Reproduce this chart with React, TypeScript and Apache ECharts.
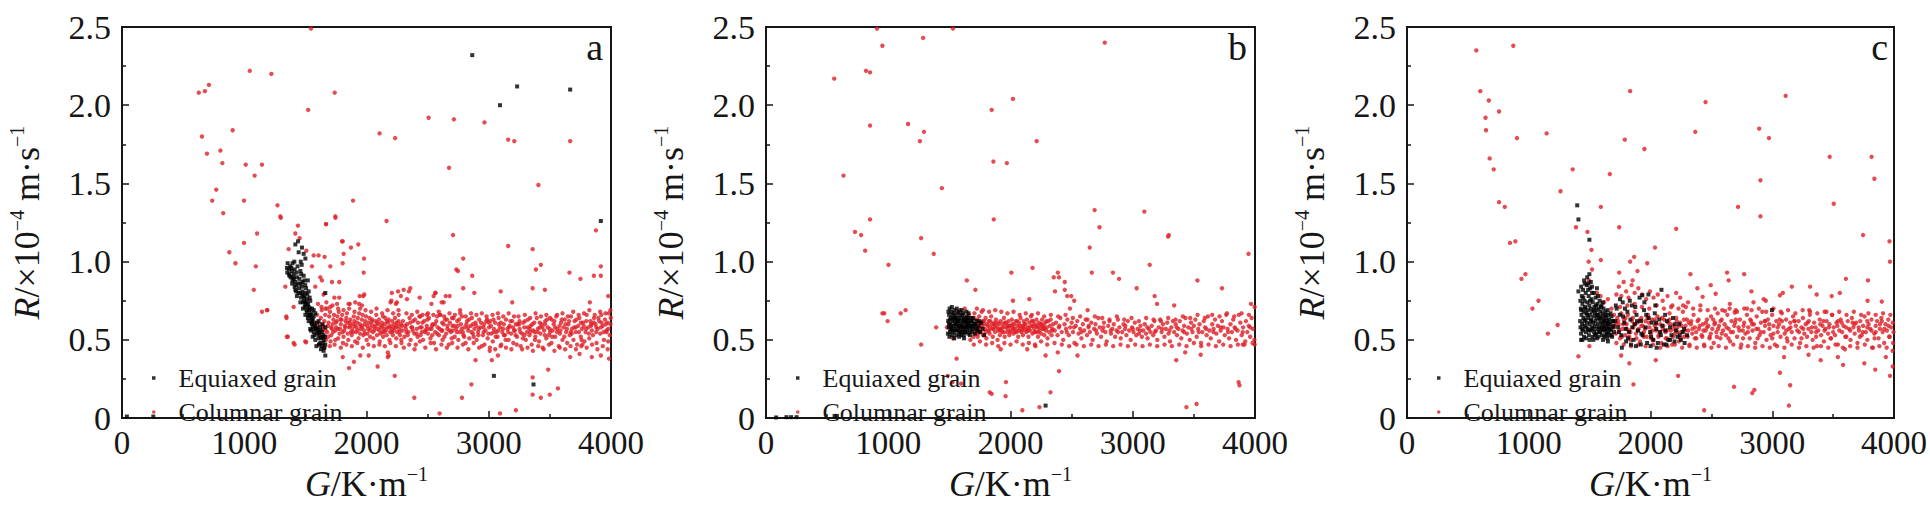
import React, { useEffect, useRef } from "react";
import * as echarts from "echarts";

type P = [number, number];

const panelLabels = ["a", "b", "c"];
const seriesNames = ["Equiaxed grain", "Columnar grain"];
const xTickLabels = ["0", "1000", "2000", "3000", "4000"];
const yTickLabels = ["0", "0.5", "1.0", "1.5", "2.0", "2.5"];

const equiaxedA: P[] = [
  [1418,1.11],[1472,1.09],[1445,1.06],[1486,1.05],[1440,1.13],[1500,1.02],[1462,1.00],
  [1349,0.96],[1363,0.95],[1352,0.93],[1390,0.94],[1404,0.92],[1431,0.90],[1459,0.94],[1486,0.91],[1376,0.97],[1395,0.99],[1370,0.91],
  [1418,0.87],[1445,0.86],[1472,0.84],[1499,0.85],[1527,0.81],[1459,0.80],[1486,0.78],[1513,0.76],[1540,0.75],[1499,0.73],[1527,0.71],[1554,0.70],
  [1513,0.68],[1540,0.66],[1568,0.65],[1527,0.62],[1554,0.60],[1581,0.59],[1540,0.57],[1568,0.55],[1595,0.54],[1608,0.51],[1581,0.50],[1622,0.48],
  [1636,0.46],[1649,0.43],[1595,0.61],[1581,0.67],[1568,0.69],[1649,0.53],[1663,0.47],[1636,0.55],[1622,0.58],[1608,0.62],[1395,0.88],[1418,0.82],
  [1431,0.78],[1459,0.74],[1480,0.70],[1500,0.66],[1520,0.64],[1545,0.56],[1560,0.52],[1600,0.56],[1650,0.50],[1640,0.60],[1663,0.58],[1520,0.88],
  [1500,0.80],[1535,0.77],[1470,0.98],[1410,1.00],[1380,0.90],[1560,0.63],[1590,0.46],[1655,0.45],[1615,0.53],[1628,0.51],[1575,0.57],[1552,0.64],
  [1532,0.69],[1510,0.72],[1490,0.75],[1475,0.79],[1448,0.83],[1425,0.85],[1405,0.89],
  [1355,0.99],[1368,0.92],[1385,0.96],[1398,0.90],[1412,0.95],[1428,0.93],[1436,0.97],[1452,0.89],[1466,0.92],[1478,0.87],[1492,0.88],[1506,0.83],
  [1516,0.79],[1462,0.86],[1476,0.81],[1492,0.77],[1506,0.74],[1522,0.73],[1538,0.70],[1548,0.67],[1534,0.65],[1556,0.62],[1570,0.60],[1585,0.57],
  [1598,0.58],[1612,0.55],[1625,0.56],[1638,0.52],[1646,0.48],[1660,0.52],[1628,0.44],[1612,0.47],[1575,0.53],[1562,0.58],[1548,0.61],[1525,0.66],
  [1510,0.69],[1495,0.71],[1482,0.74],[1464,0.77],[1442,0.80],[1425,0.81],[1412,0.84],[1392,0.86],
  [2865,2.32],[3232,2.12],[3092,2.00],[3666,2.10],[3917,1.26],[3042,0.27],[3366,0.215],[1663,0.80],[1663,0.40],[256,0.01],[40,0.01]
];

const columnarA: P[] = [
  [1546,2.49],[628,2.08],[678,2.09],[711,2.13],[1045,2.22],[1222,2.20],[1740,2.08],[1523,1.97],[654,1.80],[695,1.69],[905,1.84],[805,1.71],
  [821,1.63],[771,1.46],[738,1.39],[828,1.31],[1012,1.62],[1145,1.62],[1085,1.55],[998,1.39],[1272,1.36],[1299,1.28],[998,1.12],[1105,1.18],
  [878,1.06],[928,0.99],[1095,0.97],[1078,0.82],[1145,0.68],[1189,0.69],[1346,0.64],[1356,0.52],[1412,0.47],[1506,0.485],[2508,1.92],[2715,1.91],
  [2965,1.89],[2107,1.82],[2234,1.79],[3159,1.78],[3209,1.77],[3666,1.77],[2675,1.60],[3406,1.49],[1890,1.39],[1746,1.28],[1670,1.24],[2164,1.26],
  [3877,1.20],[2708,1.17],[3159,1.10],[3359,1.08],[1806,1.13],[1873,1.09],[1933,1.11],[1980,1.02],[2791,1.02],[3426,0.98],[3917,0.97],[3917,0.91],
  [3860,0.91],[3750,0.89],[3660,0.93],[3386,0.95],[2865,0.91],[2748,0.94],[3098,0.81],[3192,0.74],[3359,0.83],[3459,0.82],[3827,0.74],[3977,0.78],
  [2765,0.69],[2882,0.80],[2791,0.83],[2648,0.78],[2564,0.80],[2531,0.73],[2615,0.74],[2347,0.81],[2281,0.78],[2207,0.80],[2197,0.74],[2240,0.73],
  [1973,0.78],[1940,0.73],[1863,0.73],[2892,0.37],[3025,0.37],[3075,0.40],[3008,0.43],[2091,0.33],[2174,0.39],[2174,0.42],[1897,0.36],[1857,0.32],
  [1806,0.39],[2231,0.27],[2858,0.215],[2391,0.13],[2598,0.03],[2781,0.13],[3092,0.03],[3222,0.05],[3359,0.15],[3426,0.13],[3499,0.15],[3566,0.19],
  [3486,0.31],[3359,0.26],[3843,0.39],[3917,0.40],[3984,0.38],[3973,0.44],[3743,0.41],[3766,0.47],[3666,0.39],
  [1295,1.29],[1439,1.23],[1418,1.18],[1453,1.15],[1363,1.08],[1508,1.07],[1745,1.29],[1668,1.24],[1799,1.13],[1813,1.05],[1608,1.04],[1657,1.03],
  [1568,1.04],[1554,0.97],[1704,0.97],[1805,0.99],[1977,0.93],[1622,0.90],[1636,0.88],[1718,0.87],[1777,0.87],[1336,0.84],[1581,0.84],[1649,0.79],
  [1737,0.77],[1777,0.77],[1944,0.78],[1982,0.79],[2258,0.81],[2304,0.82],[2358,0.83],[2203,0.75],[2249,0.74],[2331,0.76],[2435,0.77],[2549,0.78],
  [2563,0.80],[2631,0.74],[2680,0.78],[1404,0.71],[1186,0.69],[1344,0.65],[1349,0.52],[1404,0.48],[1499,0.49],[1949,0.40],[2018,0.40],[2181,0.40],
  [1663,0.70],[1704,0.71],[1759,0.73],[1854,0.73],[1908,0.74],[1963,0.72],[2135,0.65],[2263,0.66],[2440,0.65],[2495,0.66],[2604,0.66],[2700,0.64],[2735,0.95],
  [1575,0.61],[1588,0.57],[1596,0.66],[1603,0.73],[1611,0.54],[1619,0.60],[1626,0.64],[1634,0.69],[1641,0.52],[1649,0.57],[1655,0.62],[1662,0.66],
  [1668,0.50],[1672,0.74],[1679,0.55],[1684,0.59],[1690,0.61],[1695,0.65],[1701,0.68],[1706,0.49],[1712,0.53],[1718,0.57],[1723,0.60],[1729,0.63],
  [1734,0.66],[1739,0.47],[1745,0.56],[1751,0.58],[1757,0.62],[1762,0.65],[1768,0.51],[1773,0.68],[1779,0.54],[1784,0.57],[1790,0.60],[1796,0.63],
  [1801,0.66],[1807,0.48],[1812,0.52],[1818,0.56],[1823,0.59],[1829,0.62],[1835,0.64],[1840,0.67],[1846,0.54],[1851,0.50],[1857,0.58],[1862,0.61],
  [1868,0.63],[1873,0.55],[1879,0.53],[1884,0.57],[1890,0.60],[1896,0.65],[1901,0.62],[1907,0.49],[1912,0.55],[1918,0.58],[1923,0.61],[1929,0.64],
  [1935,0.51],[1940,0.67],[1946,0.54],[1951,0.57],[1957,0.59],[1962,0.63],[1968,0.66],[1973,0.53],[1979,0.56],[1985,0.60],[1990,0.62],[1996,0.65],
  [2001,0.50],[2007,0.54],[2013,0.57],[2018,0.61],[2024,0.64],[2029,0.52],[2035,0.58],[2041,0.60],[2046,0.63],[2052,0.55],[2057,0.51],[2063,0.56],
  [2069,0.59],[2074,0.62],[2080,0.66],[2086,0.53],[2091,0.57],[2097,0.60],[2102,0.63],[2108,0.49],[2114,0.54],[2119,0.58],[2125,0.61],[2131,0.55],
  [2136,0.52],[2142,0.57],[2148,0.60],[2153,0.64],[2159,0.56],[2165,0.53],[2170,0.58],[2176,0.61],[2182,0.63],[2188,0.50],[2193,0.55],[2199,0.59],
  [2205,0.57],[2210,0.62],[2216,0.53],[2222,0.56],[2227,0.60],[2233,0.64],[2239,0.58],[2244,0.51],[2250,0.55],[2256,0.59],[2262,0.62],[2268,0.57],
  [2274,0.53],[2280,0.60],[2286,0.48],[2292,0.56],[2298,0.62],
  [1620,0.55],[1645,0.59],[1665,0.56],[1688,0.52],[1709,0.58],[1727,0.55],[1748,0.61],[1766,0.57],[1787,0.63],[1805,0.55],[1826,0.58],[1844,0.61],
  [1866,0.59],[1887,0.55],[1905,0.59],[1926,0.56],[1944,0.60],[1966,0.58],[1987,0.54],[2005,0.59],[2027,0.56],[2044,0.62],[2066,0.58],[2088,0.61],
  [2105,0.56],[2127,0.59],[2146,0.55],[2167,0.62],[2186,0.58],[2208,0.55],[2229,0.58],[2247,0.61],[2270,0.55],[2290,0.59],
  [2310,0.52],[2322,0.57],[2331,0.60],[2343,0.55],[2352,0.64],[2361,0.50],[2373,0.58],[2382,0.62],[2391,0.54],[2403,0.47],[2412,0.57],[2421,0.61],
  [2433,0.65],[2442,0.53],[2451,0.58],[2463,0.50],[2472,0.62],[2481,0.56],[2493,0.59],[2502,0.54],[2511,0.64],[2523,0.51],[2532,0.57],[2541,0.60],
  [2553,0.48],[2562,0.55],[2571,0.62],[2583,0.58],[2592,0.53],[2601,0.66],[2613,0.56],[2622,0.50],[2631,0.60],[2643,0.63],[2652,0.54],[2661,0.57],
  [2673,0.47],[2682,0.61],[2691,0.55],[2703,0.59],[2712,0.64],[2721,0.52],[2733,0.57],[2742,0.62],[2751,0.50],[2763,0.55],[2772,0.60],[2781,0.65],
  [2793,0.53],[2802,0.58],[2811,0.48],[2823,0.62],[2832,0.56],[2841,0.51],[2853,0.59],[2862,0.64],[2871,0.54],[2883,0.57],[2892,0.61],[2901,0.50],
  [2913,0.55],[2922,0.63],[2931,0.58],[2943,0.46],[2952,0.53],[2961,0.60],[2973,0.56],[2982,0.65],[2991,0.51],[3003,0.58],[3012,0.62],[3021,0.54],
  [3033,0.49],[3042,0.57],[3051,0.61],[3063,0.55],[3072,0.52],[3081,0.64],[3093,0.58],[3102,0.47],[3111,0.55],[3123,0.60],[3132,0.53],[3141,0.63],
  [3153,0.57],[3162,0.50],[3171,0.59],[3183,0.54],[3192,0.62],[3201,0.48],[3213,0.56],[3222,0.60],[3231,0.52],[3243,0.65],[3252,0.57],[3261,0.46],
  [3273,0.54],[3282,0.61],[3291,0.58],[3303,0.50],[3312,0.55],[3321,0.63],[3333,0.53],[3342,0.59],[3351,0.47],[3363,0.56],[3372,0.61],[3381,0.52],
  [3393,0.64],[3402,0.57],[3411,0.49],[3423,0.54],[3432,0.60],[3441,0.45],[3453,0.56],[3462,0.62],[3471,0.51],[3483,0.58],[3492,0.53],[3501,0.64],
  [3513,0.48],[3522,0.56],[3531,0.60],[3543,0.52],[3552,0.65],[3561,0.57],[3573,0.46],[3582,0.54],[3591,0.61],[3603,0.50],[3612,0.58],[3621,0.63],
  [3633,0.55],[3642,0.48],[3651,0.60],[3663,0.53],[3672,0.65],[3681,0.57],[3693,0.50],[3702,0.62],[3711,0.55],[3723,0.47],[3732,0.59],[3741,0.64],
  [3753,0.52],[3762,0.57],[3771,0.61],[3783,0.49],[3792,0.55],[3801,0.66],[3813,0.58],[3822,0.51],[3831,0.62],[3843,0.56],[3852,0.53],[3861,0.64],
  [3873,0.60],[3882,0.48],[3891,0.57],[3903,0.62],[3912,0.54],[3921,0.66],[3933,0.59],[3942,0.50],[3951,0.63],[3963,0.56],[3972,0.61],[3981,0.67],
  [3990,0.53],[3996,0.60],
  [2316,0.59],[2337,0.53],[2358,0.61],[2379,0.56],[2397,0.63],[2418,0.52],[2439,0.58],[2457,0.61],[2478,0.55],[2499,0.63],[2517,0.57],[2538,0.53],
  [2559,0.60],[2577,0.65],[2598,0.57],[2619,0.61],[2637,0.52],[2658,0.63],[2679,0.56],[2697,0.51],[2718,0.59],[2739,0.55],[2757,0.63],[2778,0.57],
  [2799,0.52],[2817,0.60],[2838,0.63],[2859,0.55],[2877,0.52],[2898,0.59],[2919,0.57],[2937,0.61],[2958,0.55],[2979,0.62],[2997,0.54],[3018,0.59],
  [3039,0.63],[3057,0.52],[3078,0.56],[3099,0.61],[3117,0.57],[3138,0.50],[3159,0.55],[3177,0.62],[3198,0.58],[3219,0.53],[3237,0.60],[3258,0.55],
  [3279,0.51],[3297,0.62],[3318,0.58],[3339,0.55],[3357,0.60],[3378,0.50],[3399,0.55],[3417,0.61],[3438,0.58],[3459,0.53],[3477,0.63],[3498,0.57],
  [3519,0.52],[3537,0.62],[3558,0.55],[3579,0.59],[3597,0.63],[3618,0.52],[3639,0.57],[3657,0.62],[3678,0.54],[3699,0.58],[3717,0.63],[3738,0.55],
  [3759,0.50],[3777,0.59],[3798,0.62],[3819,0.54],[3837,0.59],[3858,0.61],[3879,0.55],[3897,0.64],[3918,0.58],[3939,0.55],[3957,0.60],[3978,0.57],[3998,0.64],
  [1610,0.47],[1632,0.71],[1655,0.45],[1678,0.70],[1700,0.46],[1722,0.72],[1745,0.50],[1768,0.70],[1790,0.45],[1812,0.69],[1835,0.47],[1858,0.70],
  [1880,0.46],[1902,0.68],[1925,0.48],[1948,0.70],[1970,0.45],[1992,0.69],[2015,0.47],[2038,0.68],[2060,0.46],[2082,0.70],[2105,0.47],[2128,0.67],
  [2150,0.46],[2172,0.69],[2195,0.48],[2218,0.67],[2240,0.46],[2262,0.69],[2285,0.50],
  [2305,0.45],[2327,0.67],[2349,0.47],[2371,0.66],[2393,0.44],[2415,0.68],[2437,0.49],[2459,0.66],[2481,0.45],[2503,0.67],[2525,0.48],[2547,0.66],
  [2569,0.44],[2591,0.68],[2613,0.47],[2635,0.65],[2657,0.45],[2679,0.67],[2701,0.48],[2723,0.66],[2745,0.45],[2767,0.67],[2789,0.47],[2811,0.65],
  [2833,0.44],[2855,0.67],[2877,0.48],[2899,0.66],[2921,0.45],[2943,0.67],[2965,0.47],[2987,0.63],[3009,0.45],[3031,0.66],[3053,0.44],[3075,0.67],
  [3097,0.46],[3119,0.65],[3141,0.45],[3163,0.67],[3185,0.44],[3207,0.65],[3229,0.47],[3251,0.62],[3273,0.44],[3295,0.66],[3317,0.45],[3339,0.64],
  [3361,0.43],[3383,0.67],[3405,0.46],[3427,0.65],[3449,0.44],[3471,0.66],[3493,0.47],[3515,0.63],[3537,0.43],[3559,0.66],[3581,0.45],[3603,0.67],
  [3625,0.44],[3647,0.65],[3669,0.46],[3691,0.68],[3713,0.44],[3735,0.66],[3757,0.46],[3779,0.67],[3801,0.45],[3823,0.69],[3845,0.47],[3867,0.66],
  [3889,0.44],[3911,0.68],[3933,0.46],[3955,0.67],[3977,0.49],[3995,0.69],
  [2326,0.55],[2368,0.58],[2410,0.54],[2452,0.55],[2494,0.57],[2536,0.59],[2578,0.54],[2620,0.56],[2662,0.59],[2704,0.56],[2746,0.59],[2788,0.55],
  [2830,0.58],[2872,0.60],[2914,0.53],[2956,0.58],[2998,0.61],[3040,0.55],[3082,0.60],[3124,0.53],[3166,0.58],[3208,0.56],[3250,0.60],[3292,0.53],
  [3334,0.57],[3376,0.55],[3418,0.58],[3460,0.60],[3502,0.55],[3544,0.58],[3586,0.56],[3628,0.60],[3670,0.55],[3712,0.58],[3754,0.61],[3796,0.57],
  [3838,0.60],[3880,0.58],[3922,0.61],[3964,0.55]
];

const equiaxedB: P[] = [
  [1490,0.62],[1495,0.58],[1498,0.66],[1502,0.70],[1505,0.55],[1508,0.60],[1512,0.64],[1515,0.68],[1518,0.57],[1522,0.53],[1525,0.62],[1528,0.66],
  [1532,0.59],[1535,0.55],[1538,0.63],[1542,0.69],[1545,0.57],[1548,0.61],[1552,0.65],[1555,0.53],[1558,0.59],[1562,0.63],[1565,0.67],[1568,0.56],
  [1572,0.60],[1575,0.64],[1578,0.58],[1582,0.54],[1585,0.62],[1588,0.66],[1592,0.57],[1595,0.60],[1598,0.64],[1602,0.55],[1605,0.59],[1608,0.62],
  [1612,0.67],[1615,0.57],[1618,0.53],[1622,0.61],[1625,0.64],[1628,0.58],[1632,0.55],[1635,0.62],[1638,0.60],[1642,0.65],[1645,0.56],[1648,0.59],
  [1652,0.63],[1655,0.54],[1660,0.58],[1665,0.61],[1670,0.56],[1675,0.64],[1680,0.59],[1685,0.55],[1690,0.62],[1695,0.57],[1700,0.60],[1708,0.54],
  [1715,0.58],[1722,0.62],[1730,0.56],[1740,0.59],[1750,0.55],[1760,0.61],[1772,0.57],[1785,0.53],[1500,0.52],[1520,0.71],[1540,0.51],[1560,0.70],
  [1580,0.52],[1600,0.69],[1620,0.51],[1640,0.68],[1497,0.60],[1510,0.57],[1530,0.64],[1550,0.60],[1570,0.62],[1590,0.55],[1610,0.58],[1630,0.63],
  [1650,0.61],[1668,0.53],
  [1488,0.54],[1492,0.68],[1503,0.63],[1514,0.59],[1526,0.56],[1537,0.67],[1547,0.64],[1557,0.56],[1567,0.62],[1577,0.68],[1587,0.59],[1597,0.53],
  [1607,0.66],[1617,0.63],[1627,0.55],[1637,0.58],[1647,0.64],[1657,0.67],[1667,0.59],[1677,0.62],[1687,0.58],[1697,0.64],[1712,0.60],[1727,0.57],[1745,0.62],
  [2287,0.08],[83,0.004],[167,0.006],[205,0.006],[250,0.006],[561,0.014],[580,0.014]
];

const columnarB: P[] = [
  [908,2.49],[1529,2.49],[1285,2.43],[952,2.38],[2771,2.40],[818,2.22],[851,2.21],[558,2.17],[2020,2.04],[1846,1.97],[1162,1.88],[851,1.87],
  [1292,1.83],[1259,1.77],[2214,1.77],[1860,1.64],[1970,1.63],[634,1.55],[1439,1.47],[851,1.27],[1863,1.27],[2688,1.33],[3095,1.32],[2728,1.22],
  [728,1.19],[778,1.17],[3295,1.17],[3289,1.16],[1269,1.15],[811,1.07],[1372,1.05],[2648,1.09],[3947,1.05],[1002,0.98],[3139,0.98],[2180,0.96],
  [2007,0.93],[2387,0.93],[2397,0.90],[2354,0.90],[2444,0.87],[2665,0.93],[2838,0.93],[2888,0.89],[1643,0.88],[3529,0.88],[3032,0.83],[3730,0.83],
  [1713,0.82],[2364,0.81],[2444,0.82],[2464,0.78],[2497,0.78],[3179,0.78],[2154,0.76],[2020,0.75],[2521,0.75],[2487,0.70],[2631,0.69],[3199,0.73],
  [3339,0.72],[3967,0.73],[3997,0.71],[952,0.67],[968,0.67],[1102,0.67],[1142,0.69],[995,0.62],[1392,0.58],[1269,0.47],[1736,0.54],[1486,0.27],
  [1526,0.23],[1596,0.22],[1830,0.165],[1846,0.155],[1963,0.23],[1960,0.14],[2327,0.165],[2397,0.30],[2097,0.05],[2237,0.07],[2548,0.40],[2387,0.42],
  [3356,0.37],[3439,0.07],[3522,0.09],[3556,0.405],[3866,0.23],[3873,0.21],[3900,0.47],[3997,0.47],[3429,0.42],[2137,0.44],[1920,0.44],[2204,0.46],
  [2287,0.40],[1559,0.38],
  [1480,0.58],[1530,0.51],[1585,0.69],[1625,0.70],[1660,0.66],[1672,0.50],[1688,0.64],[1697,0.52],[1705,0.67],[1712,0.60],[1718,0.56],[1725,0.63],
  [1731,0.52],[1738,0.58],[1744,0.65],[1751,0.61],[1757,0.55],[1764,0.68],[1770,0.59],[1777,0.53],[1783,0.62],[1790,0.57],[1796,0.64],[1803,0.51],
  [1809,0.60],[1816,0.56],[1822,0.62],[1829,0.54],[1835,0.58],[1842,0.65],[1848,0.60],[1855,0.52],[1861,0.57],[1868,0.61],[1874,0.55],[1881,0.63],
  [1887,0.58],[1894,0.50],[1900,0.56],[1907,0.60],[1913,0.53],[1920,0.62],[1926,0.57],[1933,0.55],[1939,0.60],[1946,0.64],[1952,0.52],[1959,0.58],
  [1965,0.61],[1972,0.55],[1978,0.57],[1985,0.62],[1991,0.53],[1998,0.59],[2004,0.56],[2011,0.63],[2017,0.58],[2024,0.54],[2030,0.60],[2037,0.57],
  [2043,0.62],[2050,0.55],[2056,0.59],[2063,0.52],[2069,0.61],[2076,0.57],[2082,0.64],[2089,0.55],[2095,0.59],[2102,0.53],[2108,0.62],[2115,0.57],
  [2121,0.60],[2128,0.55],[2134,0.63],[2141,0.58],[2147,0.52],[2154,0.61],[2160,0.56],[2167,0.65],[2173,0.59],[2180,0.54],[2186,0.62],[2193,0.57],
  [2199,0.60],[2206,0.55],[2212,0.63],[2219,0.58],[2225,0.52],[2232,0.61],[2238,0.56],[2245,0.60],[2251,0.54],[2258,0.63],[2264,0.57],[2271,0.59],
  [2277,0.53],[2284,0.61],[2290,0.56],[2297,0.58],[2303,0.51],[2310,0.62],[2316,0.55],[2323,0.59],[2329,0.63],[2336,0.53],[2342,0.57],[2349,0.60],
  [1715,0.54],[1735,0.61],[1755,0.58],[1775,0.62],[1795,0.55],[1815,0.59],[1835,0.62],[1855,0.57],[1875,0.59],[1895,0.61],[1915,0.56],[1935,0.58],
  [1955,0.61],[1975,0.59],[1995,0.55],[2015,0.60],[2035,0.55],[2055,0.62],[2075,0.59],[2095,0.56],[2115,0.60],[2135,0.56],[2155,0.58],[2175,0.62],
  [2195,0.55],[2215,0.59],[2235,0.58],[2255,0.60],[2275,0.57],[2295,0.62],
  [2362,0.56],[2373,0.61],[2385,0.53],[2396,0.58],[2408,0.64],[2419,0.55],[2431,0.50],[2442,0.60],[2454,0.57],[2465,0.63],[2477,0.53],[2488,0.58],
  [2500,0.61],[2511,0.55],[2523,0.48],[2534,0.59],[2546,0.62],[2557,0.54],[2569,0.57],[2580,0.51],[2592,0.60],[2603,0.56],[2615,0.63],[2626,0.53],
  [2638,0.58],[2649,0.55],[2661,0.61],[2672,0.50],[2684,0.57],[2695,0.60],[2707,0.54],[2718,0.64],[2730,0.58],[2741,0.52],[2753,0.56],[2764,0.61],
  [2776,0.55],[2787,0.49],[2799,0.59],[2810,0.62],[2822,0.54],[2833,0.57],[2845,0.60],[2856,0.52],[2868,0.56],[2879,0.63],[2891,0.58],[2902,0.51],
  [2914,0.55],[2925,0.60],[2937,0.57],[2948,0.53],[2960,0.62],[2971,0.56],[2983,0.50],[2994,0.58],[3006,0.55],[3017,0.61],[3029,0.53],[3040,0.57],
  [3052,0.54],[3063,0.59],[3075,0.52],[3086,0.56],[3098,0.60],[3109,0.54],[3121,0.51],[3132,0.57],[3144,0.55],[3155,0.59],[3167,0.53],[3178,0.62],
  [3190,0.56],[3201,0.50],[3213,0.58],[3224,0.63],[3236,0.55],[3247,0.60],[3259,0.52],[3270,0.57],[3282,0.61],[3293,0.54],[3305,0.49],[3316,0.58],
  [3328,0.62],[3339,0.55],[3351,0.60],[3362,0.53],[3374,0.57],[3385,0.62],[3397,0.51],[3408,0.56],[3420,0.59],[3431,0.64],[3443,0.54],[3454,0.58],
  [3466,0.50],[3477,0.61],[3489,0.55],[3500,0.59],[3512,0.63],[3523,0.52],[3535,0.57],[3546,0.60],[3558,0.48],[3569,0.55],[3581,0.62],[3592,0.58],
  [3604,0.53],[3615,0.65],[3627,0.56],[3638,0.51],[3650,0.60],[3661,0.57],[3673,0.63],[3684,0.54],[3696,0.59],[3707,0.49],[3719,0.56],[3730,0.62],
  [3742,0.58],[3753,0.53],[3765,0.66],[3776,0.57],[3788,0.51],[3799,0.60],[3811,0.55],[3822,0.63],[3834,0.58],[3845,0.50],[3857,0.56],[3868,0.66],
  [3880,0.61],[3891,0.53],[3903,0.58],[3914,0.47],[3926,0.62],[3937,0.55],[3949,0.59],[3960,0.52],[3972,0.64],[3983,0.57],[3995,0.50],
  [1700,0.47],[1725,0.70],[1750,0.49],[1775,0.69],[1800,0.47],[1825,0.68],[1850,0.48],[1875,0.69],[1900,0.46],[1925,0.68],[1950,0.48],[1975,0.67],
  [2000,0.47],[2025,0.68],[2050,0.49],[2075,0.66],[2100,0.47],[2125,0.67],[2150,0.48],[2175,0.66],[2200,0.47],[2225,0.67],[2250,0.49],[2275,0.65],
  [2300,0.47],[2330,0.66],[2360,0.48],[2390,0.65],[2420,0.47],[2450,0.66],[2480,0.46],[2510,0.64],[2540,0.47],[2570,0.65],[2600,0.46],[2630,0.63],
  [2660,0.47],[2690,0.65],[2720,0.46],[2750,0.64],[2780,0.47],[2810,0.63],[2840,0.46],[2870,0.65],[2900,0.47],[2930,0.63],[2960,0.46],[2990,0.64],
  [3020,0.47],[3050,0.62],[3080,0.46],[3110,0.64],[3140,0.47],[3170,0.63],[3200,0.46],[3230,0.62],[3260,0.47],[3290,0.64],[3320,0.46],[3350,0.63],
  [3380,0.47],[3410,0.65],[3440,0.46],[3470,0.64],[3500,0.48],[3530,0.66],[3560,0.46],[3590,0.64],[3620,0.47],[3650,0.66],[3680,0.46],[3710,0.65],
  [3740,0.47],[3770,0.67],[3800,0.46],[3830,0.65],[3860,0.47],[3890,0.67],[3920,0.49],[3950,0.66],[3980,0.48],
  [1745,0.56],[1785,0.60],[1825,0.56],[1865,0.60],[1905,0.57],[1945,0.55],[1985,0.59],[2025,0.57],[2065,0.56],[2105,0.58],[2145,0.56],[2185,0.59],
  [2225,0.55],[2265,0.58],[2340,0.56],[2400,0.59],[2460,0.55],[2520,0.58],[2580,0.55],[2640,0.59],[2700,0.56],[2760,0.58],[2820,0.56],[2880,0.55],
  [2940,0.59],[3000,0.57],[3060,0.56],[3120,0.58],[3180,0.55],[3240,0.57],[3300,0.56],[3360,0.58],[3420,0.55],[3480,0.57],[3540,0.55],[3600,0.57],
  [3660,0.55],[3720,0.58],[3780,0.55],[3840,0.57],[3900,0.55],[3960,0.58]
];

const equiaxedC: P[] = [
  [1422,0.62],[1425,0.58],[1428,0.70],[1430,0.54],[1433,0.66],[1436,0.78],[1438,0.60],[1441,0.73],[1444,0.56],[1446,0.82],[1449,0.64],[1452,0.68],
  [1454,0.52],[1457,0.75],[1460,0.59],[1462,0.71],[1465,0.63],[1468,0.80],[1470,0.55],[1473,0.67],[1476,0.85],[1478,0.61],[1481,0.74],[1484,0.57],
  [1486,0.69],[1489,0.64],[1492,0.78],[1494,0.53],[1497,0.72],[1500,0.60],[1502,0.66],[1505,0.83],[1508,0.56],[1510,0.70],[1513,0.63],[1516,0.76],
  [1518,0.58],[1521,0.68],[1524,0.52],[1526,0.74],[1529,0.61],[1532,0.65],[1534,0.80],[1537,0.55],[1540,0.71],[1542,0.59],[1545,0.67],[1548,0.62],
  [1550,0.77],[1553,0.54],[1556,0.69],[1558,0.64],[1561,0.57],[1564,0.73],[1566,0.60],[1569,0.66],[1572,0.52],[1574,0.70],[1577,0.58],[1580,0.63],
  [1582,0.75],[1585,0.55],[1588,0.68],[1590,0.61],[1593,0.57],[1596,0.65],[1598,0.72],[1601,0.53],[1604,0.60],[1606,0.67],[1609,0.56],[1612,0.63],
  [1614,0.70],[1617,0.58],[1620,0.52],[1622,0.65],[1625,0.61],[1628,0.56],[1630,0.68],[1633,0.59],[1636,0.53],[1638,0.64],[1641,0.57],[1644,0.62],
  [1646,0.51],[1649,0.60],[1652,0.66],[1654,0.55],[1657,0.58],[1660,0.63],[1665,0.53],[1670,0.60],[1675,0.56],[1680,0.65],[1685,0.52],[1690,0.58],
  [1695,0.62],[1700,0.55],
  [1398,1.36],[1408,1.27],[1498,1.14],[1498,0.92],[1408,0.81],[1430,0.84],[1455,0.88],[1480,0.90],[1510,0.87],[1440,0.50],[1470,0.51],[1500,0.50],
  [1530,0.50],[1560,0.51],[1610,0.50],[1650,0.49],
  [1424,0.75],[1432,0.69],[1440,0.57],[1448,0.77],[1456,0.62],[1464,0.70],[1472,0.58],[1480,0.66],[1488,0.82],[1496,0.56],[1504,0.75],[1512,0.62],
  [1520,0.80],[1528,0.57],[1536,0.69],[1544,0.53],[1552,0.72],[1560,0.66],[1568,0.78],[1576,0.55],[1584,0.64],[1592,0.71],[1600,0.58],[1608,0.74],
  [1616,0.62],[1624,0.57],[1632,0.66],[1640,0.54],[1648,0.69],[1656,0.61],[1664,0.57],[1672,0.67],[1680,0.53],[1688,0.62],[1696,0.59],[1430,0.50],
  [1460,0.86],[1490,0.86],[1520,0.84],[1560,0.83],
  [1710,0.62],[1722,0.70],[1735,0.58],[1748,0.66],[1760,0.53],[1772,0.74],[1785,0.61],[1797,0.57],[1810,0.68],[1822,0.55],[1835,0.63],[1847,0.72],
  [1860,0.50],[1872,0.60],[1885,0.66],[1897,0.56],[1910,0.77],[1922,0.62],[1935,0.53],[1947,0.69],[1960,0.58],[1972,0.48],[1983,0.79],[1985,0.64],
  [1997,0.55],[2010,0.61],[2022,0.50],[2035,0.67],[2047,0.57],[2060,0.48],[2072,0.63],[2085,0.53],[2090,0.82],[2097,0.59],[2110,0.47],[2122,0.56],
  [2135,0.62],[2147,0.50],[2160,0.58],[2172,0.53],[2185,0.64],[2197,0.49],[2210,0.56],[2222,0.52],[2235,0.60],[2250,0.50],[2265,0.55],[2280,0.48],
  [2300,0.53],[1933,0.785],[1765,0.45],[1800,0.49],[1840,0.47],[1880,0.46],[1920,0.47],[2000,0.46],[2050,0.45],[2130,0.47],[2997,0.69],[1715,0.72],
  [1750,0.76],[1790,0.70],[1830,0.75],[1875,0.71],[1950,0.74],[2040,0.72],
  [1740,0.55],[1775,0.65],[1815,0.51],[1850,0.58],[1890,0.62],[1925,0.54],[1965,0.66],[2005,0.52],[2045,0.61],[2080,0.55],[2120,0.66],[2160,0.50],
  [2200,0.60],[2240,0.53],[2275,0.57]
];

const columnarC: P[] = [
  [569,2.35],[873,2.38],[602,2.09],[1833,2.09],[672,2.03],[3110,2.06],[2452,2.02],[756,1.96],[645,1.92],[649,1.84],[2893,1.85],[2368,1.83],
  [1147,1.82],[903,1.79],[2973,1.79],[1789,1.78],[1950,1.72],[679,1.66],[712,1.59],[3472,1.67],[3816,1.67],[1361,1.59],[2903,1.52],[3839,1.53],
  [1261,1.45],[1666,1.56],[756,1.38],[803,1.35],[1592,1.35],[3505,1.37],[2719,1.35],[2903,1.29],[1388,1.22],[1743,1.22],[2211,1.21],[3746,1.17],
  [1482,1.19],[846,1.12],[890,1.13],[3963,1.13],[2037,1.09],[1515,1.075],[1866,1.03],[1833,1.00],[1592,1.01],[1492,1.00],[3967,1.00],[1973,0.99],
  [973,0.92],[940,0.89],[2328,0.92],[2629,0.93],[2642,0.88],[2769,0.92],[3605,0.89],[3786,0.88],[1893,0.94],[1743,0.93],[1853,0.88],[1080,0.75],
  [1030,0.70],[1237,0.595],[1157,0.54],[1408,0.395],[1498,0.46],[1759,0.40],[1826,0.35],[2043,0.37],[2227,0.27],[1860,0.215],[2441,0.05],[2686,0.20],
  [2836,0.16],[2853,0.18],[3063,0.29],[3147,0.21],[3137,0.08],[3097,0.39],[3298,0.405],[3398,0.37],[3582,0.34],[3756,0.35],[3846,0.31],[3967,0.27],
  [3990,0.33],[3933,0.39],[3539,0.39],[3488,0.78],[3555,0.80],[3783,0.75],[3900,0.745],[2930,0.76],[2846,0.74],[2829,0.81],[3161,0.84],[3311,0.84],
  [3063,0.785],[3087,0.80],[3365,0.79],[3304,0.69],[3445,0.68],[2495,0.85],[2385,0.83],[2535,0.795],[2211,0.80],[2244,0.77],[2268,0.72],[2308,0.74],
  [2428,0.775],[2652,0.73],[2692,0.675],[2793,0.70],[2947,0.75],[2612,0.685],
  [1495,0.88],[1520,0.95],[1560,0.80],[1590,0.78],[1620,0.74],[1650,0.76],[1680,0.70],[1700,0.66],[1720,0.79],[1740,0.84],[1760,0.78],[1780,0.87],
  [1800,0.81],[1820,0.77],[1845,0.85],[1870,0.80],[1900,0.83],[1930,0.79],[1965,0.76],[1995,0.81],[2025,0.77],[2060,0.79],[2100,0.75],[2140,0.78],[2180,0.72],
  [1705,0.58],[1716,0.54],[1727,0.64],[1738,0.60],[1749,0.51],[1760,0.67],[1771,0.57],[1782,0.63],[1793,0.53],[1804,0.60],[1815,0.66],[1826,0.56],
  [1837,0.50],[1848,0.62],[1859,0.58],[1870,0.68],[1881,0.54],[1892,0.61],[1903,0.57],[1914,0.49],[1925,0.64],[1936,0.59],[1947,0.55],[1958,0.62],
  [1969,0.52],[1980,0.66],[1991,0.58],[2002,0.54],[2013,0.63],[2024,0.50],[2035,0.59],[2046,0.56],[2057,0.65],[2068,0.53],[2079,0.60],[2090,0.48],
  [2101,0.57],[2112,0.63],[2123,0.55],[2134,0.51],[2145,0.61],[2156,0.67],[2167,0.56],[2178,0.47],[2189,0.59],[2200,0.54],[2211,0.64],[2222,0.58],
  [2233,0.49],[2244,0.61],[2255,0.55],[2266,0.68],[2277,0.52],[2288,0.59],[2299,0.63],[2310,0.56],[2321,0.47],[2332,0.60],[2343,0.54],[2354,0.66],
  [2365,0.58],[2376,0.51],[2387,0.62],[2398,0.57],[2409,0.69],[2420,0.53],[2431,0.60],[2442,0.46],[2453,0.56],[2464,0.63],[2475,0.59],[2486,0.52],
  [2497,0.65],[2508,0.57],[2519,0.48],[2530,0.61],[2541,0.55],[2552,0.67],[2563,0.59],[2574,0.51],[2585,0.63],[2596,0.56],
  [2608,0.60],[2619,0.53],[2631,0.66],[2642,0.57],[2654,0.49],[2665,0.62],[2677,0.55],[2688,0.59],[2700,0.69],[2711,0.52],[2723,0.58],[2734,0.63],
  [2746,0.47],[2757,0.56],[2769,0.61],[2780,0.54],[2792,0.66],[2803,0.58],[2815,0.51],[2826,0.62],[2838,0.56],[2849,0.60],[2861,0.48],[2872,0.65],
  [2884,0.57],[2895,0.53],[2907,0.61],[2918,0.68],[2930,0.55],[2941,0.59],[2953,0.50],[2964,0.63],[2976,0.57],[2987,0.53],[2999,0.66],[3010,0.59],
  [3022,0.47],[3033,0.62],[3045,0.55],[3056,0.60],[3068,0.52],[3079,0.67],[3091,0.58],[3102,0.54],[3114,0.63],[3125,0.49],[3137,0.57],[3148,0.61],
  [3160,0.55],[3171,0.65],[3183,0.51],[3194,0.59],[3206,0.56],[3217,0.62],[3229,0.48],[3240,0.58],[3252,0.64],[3263,0.54],[3275,0.60],[3286,0.52],
  [3298,0.57],[3309,0.66],[3321,0.55],[3332,0.50],[3344,0.61],[3355,0.58],[3367,0.46],[3378,0.56],[3390,0.63],[3401,0.53],[3413,0.59],[3424,0.49],
  [3436,0.57],[3447,0.62],[3459,0.54],[3470,0.60],[3482,0.51],[3493,0.66],[3505,0.58],[3516,0.53],[3528,0.61],[3539,0.47],[3551,0.56],[3562,0.63],
  [3574,0.55],[3585,0.59],[3597,0.44],[3608,0.52],[3620,0.62],[3631,0.57],[3643,0.50],[3654,0.64],[3666,0.58],[3677,0.54],[3689,0.61],[3700,0.48],
  [3712,0.56],[3723,0.62],[3735,0.53],[3746,0.59],[3758,0.65],[3769,0.55],[3781,0.50],[3792,0.60],[3804,0.57],[3815,0.63],[3827,0.45],[3838,0.54],
  [3850,0.59],[3861,0.62],[3873,0.51],[3884,0.57],[3896,0.64],[3907,0.55],[3919,0.48],[3930,0.60],[3942,0.56],[3953,0.63],[3965,0.52],[3976,0.58],
  [3988,0.43],[3996,0.55],
  [2625,0.58],[2660,0.55],[2695,0.61],[2730,0.56],[2765,0.59],[2800,0.55],[2835,0.60],[2870,0.57],[2905,0.55],[2940,0.62],[2975,0.60],[3010,0.54],
  [3045,0.58],[3080,0.62],[3115,0.56],[3150,0.58],[3185,0.62],[3220,0.55],[3255,0.57],[3290,0.61],[3325,0.58],[3360,0.55],[3395,0.60],[3430,0.56],
  [3465,0.58],[3500,0.55],[3535,0.59],[3570,0.61],[3605,0.58],[3640,0.56],[3675,0.60],[3710,0.58],[3745,0.55],[3780,0.58],[3815,0.56],[3850,0.55],
  [3885,0.60],[3920,0.57],[3955,0.59],[3990,0.61],[1715,0.60],[1745,0.56],[1775,0.60],[1805,0.57],[1835,0.55],[1865,0.60],[1895,0.56],[1925,0.59],
  [1955,0.57],[1985,0.61],[2015,0.56],[2045,0.60],[2075,0.55],[2105,0.59],[2135,0.56],[2165,0.60],[2195,0.57],[2225,0.55],[2255,0.59],[2285,0.56],
  [2315,0.61],[2345,0.57],[2375,0.55],[2405,0.59],[2435,0.56],[2465,0.58],[2495,0.54],[2525,0.60],[2555,0.57],[2585,0.54],
  [1720,0.48],[1750,0.71],[1780,0.47],[1810,0.72],[1840,0.46],[1870,0.73],[1900,0.47],[1930,0.71],[1960,0.46],[1990,0.70],[2020,0.47],[2050,0.72],
  [2080,0.45],[2110,0.70],[2140,0.46],[2170,0.71],[2200,0.47],[2230,0.70],[2260,0.45],[2290,0.71],[2320,0.46],[2350,0.70],[2380,0.45],[2410,0.72],
  [2440,0.47],[2470,0.69],[2500,0.45],[2530,0.70],[2560,0.46],[2590,0.69],[2620,0.45],[2650,0.70],[2680,0.47],[2710,0.68],[2740,0.45],[2770,0.70],
  [2800,0.46],[2830,0.69],[2860,0.45],[2890,0.70],[2920,0.46],[2950,0.68],[2980,0.45],[3010,0.70],[3040,0.46],[3070,0.68],[3100,0.45],[3130,0.69],
  [3160,0.47],[3190,0.67],[3220,0.45],[3250,0.69],[3280,0.46],[3310,0.68],[3340,0.45],[3370,0.67],[3400,0.46],[3430,0.68],[3460,0.45],[3490,0.66],
  [3520,0.47],[3550,0.68],[3580,0.45],[3610,0.66],[3640,0.46],[3670,0.68],[3700,0.45],[3730,0.66],[3760,0.47],[3790,0.67],[3820,0.45],[3850,0.66],
  [3880,0.46],[3910,0.67],[3940,0.45],[3970,0.66],[3993,0.48],
  [1735,0.62],[1765,0.52],[1795,0.64],[1825,0.52],[1855,0.64],[1885,0.51],[1915,0.63],[1945,0.52],[1975,0.64],[2005,0.51],[2035,0.63],[2065,0.52],
  [2095,0.64],[2125,0.51],[2155,0.63],[2185,0.52],[2215,0.62],[2245,0.51],[2275,0.63],[2305,0.52],[2335,0.62],[2365,0.51],[2395,0.63],[2425,0.52],
  [2455,0.61],[2485,0.51],[2515,0.63],[2545,0.52],[2575,0.62],[2640,0.51],[2700,0.63],[2760,0.51],[2820,0.63],[2880,0.51],[2940,0.62],[3000,0.51],
  [3060,0.63],[3120,0.51],[3180,0.62],[3240,0.51],[3300,0.62],[3360,0.52],[3420,0.62],[3480,0.51],[3540,0.62],[3600,0.52],[3660,0.61],[3720,0.52],
  [3780,0.62],[3840,0.51],[3900,0.62],[3960,0.52]
];

const equiaxedSets = [equiaxedA, equiaxedB, equiaxedC];
const columnarSets = [columnarA, columnarB, columnarC];

const FONT = "'Liberation Serif', 'Times New Roman', serif";
const INK = "#161616";
const RED = "#de1f27";
const GRID_LEFTS = [122, 766, 1407];
const GRID_TOP = 27;
const GRID_W = 489;
const GRID_H = 395;

export default function App() {
  const ref = useRef<HTMLDivElement>(null);
  useEffect(() => {
    document.body.style.margin = "0";
    if (!ref.current) return;
    const chart = echarts.init(ref.current, undefined, { renderer: "svg" });
    const rich = {
      i: { fontStyle: "italic", fontFamily: FONT, fontSize: 36, lineHeight: 40, color: INK },
      s: { fontFamily: FONT, fontSize: 20, lineHeight: 20, verticalAlign: "top", color: INK },
    };
    const grids = GRID_LEFTS.map((left) => ({
      left, top: GRID_TOP, width: GRID_W, height: GRID_H,
      show: true, borderColor: INK, borderWidth: 2, backgroundColor: "transparent",
    }));
    const axisCommon = {
      axisLine: { show: true, lineStyle: { color: INK, width: 2 } },
      axisTick: { show: true, inside: true, length: 7, lineStyle: { color: INK, width: 1.5 } },
      minorTick: { show: true, splitNumber: 2, length: 4, lineStyle: { color: INK, width: 1.5 } },
      splitLine: { show: false },
    };
    const xAxes = GRID_LEFTS.map((_, k) => ({
      type: "value", gridIndex: k, min: 0, max: 4000, interval: 1000,
      ...axisCommon,
      axisLabel: {
        fontFamily: FONT, fontSize: 33, color: INK, margin: 8,
        formatter: (v: number) => xTickLabels[Math.round(v / 1000)] ?? "",
      },
      name: "{i|G}/K·m{s|−1}",
      nameLocation: "middle", nameGap: 43,
      nameTextStyle: { fontFamily: FONT, fontSize: 36, lineHeight: 40, color: INK, rich },
    }));
    const yAxes = GRID_LEFTS.map((_, k) => ({
      type: "value", gridIndex: k, min: 0, max: 2.5, interval: 0.5,
      ...axisCommon,
      axisLabel: {
        fontFamily: FONT, fontSize: 34, color: INK, margin: 11,
        formatter: (v: number) => yTickLabels[Math.round(v / 0.5)] ?? "",
      },
      name: "{i|R}/×10{s|−4} m·s{s|−1}",
      nameLocation: "middle", nameGap: 75,
      nameTextStyle: { fontFamily: FONT, fontSize: 36, lineHeight: 40, color: INK, rich },
    }));
    const series: any[] = [];
    GRID_LEFTS.forEach((_, k) => {
      series.push({
        type: "scatter", name: seriesNames[1], xAxisIndex: k, yAxisIndex: k,
        data: columnarSets[k], symbol: "circle", symbolSize: 4.4,
        itemStyle: { color: RED }, z: 2,
      });
      series.push({
        type: "scatter", name: seriesNames[0], xAxisIndex: k, yAxisIndex: k,
        data: equiaxedSets[k], symbol: "rect", symbolSize: 4,
        itemStyle: { color: "#000" }, z: 3,
      });
    });
    const legends = GRID_LEFTS.map((left) => ({
      left: left + 25, top: 360, orient: "vertical", itemGap: 8,
      itemWidth: 3.5, itemHeight: 3.5, selectedMode: false,
      textStyle: { fontFamily: FONT, fontSize: 26, color: INK, padding: [0, 0, 0, 18] },
      data: [
        { name: seriesNames[0], icon: "rect", itemStyle: { color: "#000" } },
        { name: seriesNames[1], icon: "circle", itemStyle: { color: RED } },
      ],
    }));
    const titles = GRID_LEFTS.map((left, k) => ({
      text: panelLabels[k],
      right: 1930 - (left + GRID_W - 8),
      top: 28, padding: 0,
      textStyle: { fontFamily: FONT, fontSize: 38, fontWeight: "normal", color: INK },
    }));
    chart.setOption({
      animation: false,
      backgroundColor: "#fff",
      title: titles,
      legend: legends,
      grid: grids,
      xAxis: xAxes,
      yAxis: yAxes,
      series,
    });
    return () => chart.dispose();
  }, []);
  return <div ref={ref} style={{ width: 1930, height: 509 }} />;
}
